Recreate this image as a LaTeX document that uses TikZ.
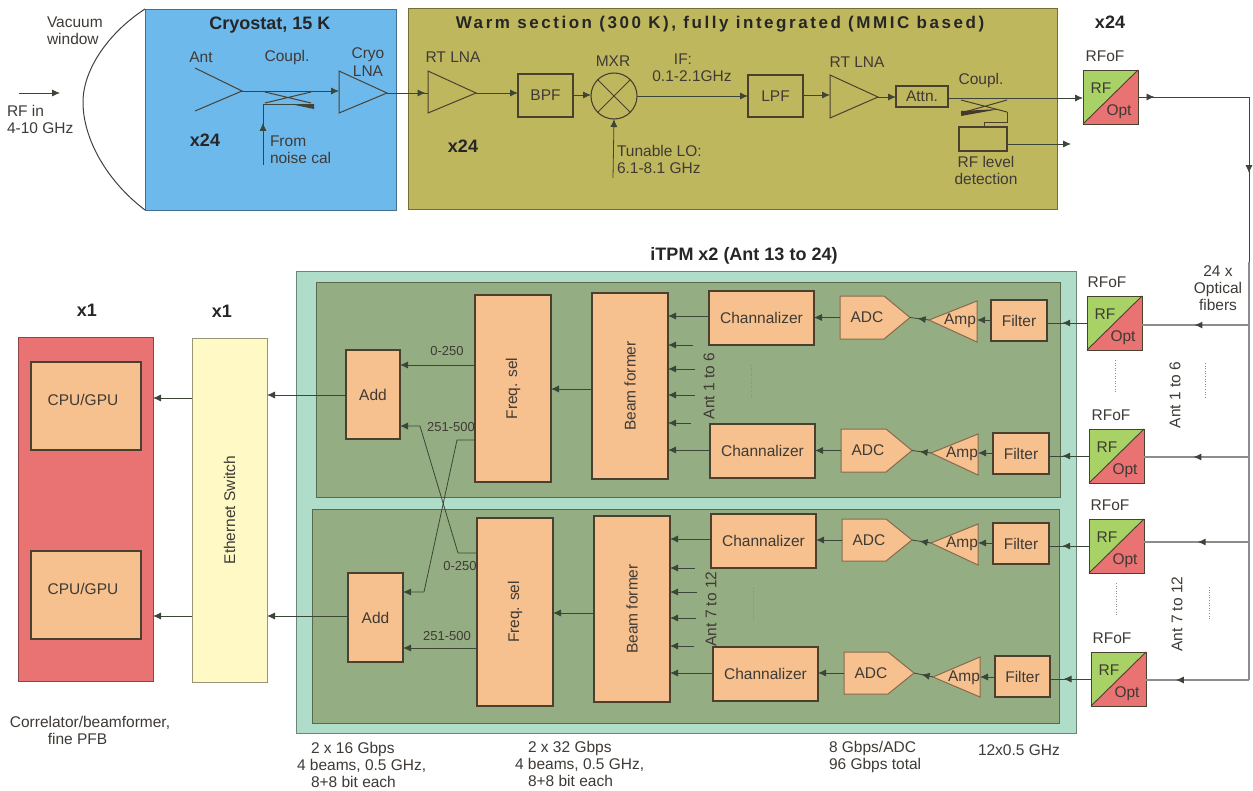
\documentclass[tikz,border=0pt]{standalone}
\usepackage{fontspec}
\setmainfont{Liberation Sans}
\usetikzlibrary{arrows.meta,decorations.markings,calc}
\definecolor{txtc}{HTML}{3F3A35}
\definecolor{linec}{HTML}{3C4638}
\definecolor{edgec}{HTML}{4A4030}
\definecolor{bluef}{HTML}{6DB9EC}
\definecolor{olivef}{HTML}{BFB75E}
\definecolor{tealf}{HTML}{B0DDC9}
\definecolor{panelf}{HTML}{95AD82}
\definecolor{orangef}{HTML}{F6C18E}
\definecolor{redf}{HTML}{E97272}
\definecolor{yellowf}{HTML}{FFF9C6}
\definecolor{rfgreen}{HTML}{A9D266}
\tikzset{
  x=1pt,y=-1pt,
  every node/.style={text=txtc,font=\fontsize{15.5}{17}\selectfont,inner sep=0pt,outer sep=0pt},
  boldlab/.style={font=\fontsize{18}{20}\bfseries\selectfont,text=black!85},
  smalllab/.style={font=\fontsize{13}{15}\selectfont},
  para/.style={align=left,font=\fontsize{15.5}{17.3}\selectfont},
  parac/.style={align=center,font=\fontsize{15.5}{17.3}\selectfont},
  region/.style={draw=#1!60!black,line width=1pt},
  procbox/.style={draw=edgec,fill=orangef,line width=1.3pt},
  warmbox/.style={draw=edgec,line width=1.1pt},
  shapeline/.style={draw=edgec,line width=1pt},
  ln/.style={draw=linec,line width=.8pt},
  tip/.style={ln,-{Latex[length=8pt,width=7pt]}},
  midtip/.style={ln,postaction={decorate},decoration={markings,mark=at position #1 with {\arrow[linec]{Latex[length=8pt,width=7pt]}}}},
  fibre/.style={midtip=#1,draw=black!45,line width=1.1pt},
  dotsv/.style={draw=black!45,line width=.6pt,dotted},
}
\newcommand\bxx[8][]{%
  \pgfmathsetmacro\bxw{#6-#4}\pgfmathsetmacro\bxh{#7-#5}%
  \node[#2,#1,minimum width=\bxw pt,minimum height=\bxh pt] (#3) at ({(#4+#6)/2},{(#5+#7)/2}) {#8};}
% triangle: name, xbase, xtip, ytop, ybot, ytip
\newcommand\tri[6]{%
  \draw[shapeline] (#2,#4)--(#3,#6)--(#2,#5)--cycle;
  \coordinate (#1-in) at (#2,#6);\coordinate (#1-out) at (#3,#6);}
% amp (pointing left): name, xtip, xbase, ytop, ybot, ytip
\newcommand\amp[6]{%
  \draw[shapeline,fill=orangef,draw=orangef!55!black] (#3,#4)--(#2,#6)--(#3,#5)--cycle;
  \coordinate (#1-in) at (#3,#6);\coordinate (#1-out) at (#2,#6);
  \node (#1-t) at ({#2+31},{#6+1}) {Amp};}
% adc: name, x0, xs, x1, y0, y1
\newcommand\adc[6]{%
  \draw[shapeline,fill=orangef,draw=orangef!55!black] (#2,#5)--(#3,#5)--(#4,{(#5+#6)/2})--(#3,#6)--(#2,#6)--cycle;
  \coordinate (#1-in) at (#4,{(#5+#6)/2});\coordinate (#1-out) at (#2,{(#5+#6)/2});
  \node (#1-t) at ({#2+27},{(#5+#6)/2}) {ADC};}
% rfof: name, x0, y0, label x, label y
\newcommand\rfof[5]{%
  \fill[rfgreen] (#2,#3) rectangle ({#2+55},{#3+54});
  \fill[redf] ({#2+55},#3)--({#2+55},{#3+54})--(#2,{#3+54})--cycle;
  \draw[edgec,line width=.9pt] ({#2+55},#3)--(#2,{#3+54});
  \node[draw=edgec,line width=1pt,minimum width=55pt,minimum height=54pt] (#1) at ({#2+27.5},{#3+27}) {};
  \node (#1-rf) at ({#2+18},{#3+18}) {RF};
  \node (#1-opt) at ({#2+36},{#3+42}) {Opt};
  \node (#1-lab) at (#4,#5) {RFoF};}
\begin{document}
\begin{tikzpicture}
\useasboundingbox (0,0) rectangle (1253,790);
\fill[white] (0,0) rectangle (1253,790);

% ---------- top row regions
\draw[ln,line width=1pt] (145,9) .. controls (108,33) and (83,70) .. (83,102) .. controls (83,140) and (108,182) .. (145,210);
\bxx[fill=bluef]{region=bluef}{cryo}{145}{9}{396}{210}{}
\bxx[fill=olivef]{region=olivef}{warm}{408}{8}{1057}{209}{}
\node[boldlab] (cryot) at (270,25) {Cryostat, 15 K};
\node[boldlab,font=\fontsize{17}{20}\bfseries\selectfont\addfontfeature{LetterSpace=15}] (warmt) at (720,24) {Warm section (300 K), fully integrated (MMIC based)};

% RF in
\coordinate (rfa) at (19,93);\coordinate (rfb) at (60,93);
\draw[tip] (rfa)--(rfb);
\node[para] (vac) at (47,30.5) [anchor=west] {Vacuum\\window};
\node[para] (rfin) at (7,119.5) [anchor=west] {RF in\\4-10 GHz};

% Cryostat content
\node (ant) at (201,57) {Ant};
\node (cpl1) at (287,57) {Coupl.};
\node[parac] (cryolna) at (368,62) {Cryo\\LNA};
\node[boldlab] (x24a) at (205,140) {x24};
\node[para,anchor=west] (noisecal) at (270,149.5) {From\\noise cal};
\coordinate (antt) at (242,91);
\draw[shapeline] (195,68)--(antt)--(195,111);
\tri{clna}{339}{387}{71}{113}{93}
\draw[tip] (antt)--(339,91);
\draw[shapeline] (265,92)--(311,103) (265,103)--(311,92);
\fill[edgec] (290,104)--(314,104)--(314,109)--cycle;
\coordinate (ncal) at (263,165);
\draw[midtip=.38] (ncal)--(263,104)--(313,104);

% Warm content
\tri{rlna1}{428}{476}{71}{113}{93}
\draw[midtip=.94] (clna-out)--(rlna1-in);
\node (rtl1) at (453,57) {RT LNA};
\node[boldlab] (x24b) at (463,146) {x24};
\bxx{warmbox}{bpf}{518}{74}{573}{117}{BPF}
\node[draw=edgec,line width=1.1pt,minimum size=46pt,circle] (mxr) at (614,96) {};
\draw[shapeline] (mxr.45)--(mxr.225) (mxr.135)--(mxr.315);
\node (mxrl) at (613,61) {MXR};
\node (ifl) at (683,59) {IF:};
\node (ifr) at (692,76) {0.1-2.1GHz};
\coordinate (lo) at (613,178);
\draw[tip] (lo)--(mxr.south);
\node[para,anchor=west] (lol) at (617,159.5) {Tunable LO:\\6.1-8.1 GHz};
\bxx{warmbox}{lpf}{748}{75}{803}{117}{LPF}
\node (rtl2) at (857,62) {RT LNA};
\tri{rlna2}{830}{878}{75}{118}{97}
\bxx{warmbox}{attn}{896}{86}{948}{107}{Attn.}
\node (cpl2) at (981,80) {Coupl.};
\bxx{warmbox}{rfdet}{959}{127}{1007}{151}{}
\node[parac] (rfdett) at (986,170.5) {RF level\\detection};
\draw[tip] (rlna1-out)--(bpf.west |- 0,93);
\draw[tip] (bpf.east |- 0,95)--(mxr.west |- 0,95);
\draw[tip] (mxr.east |- 0,96)--(lpf.west |- 0,96);
\draw[tip] (lpf.east |- 0,95)--(rlna2-in |- 0,95);
\draw[tip] (rlna2-out)--(attn.west |- 0,97);
\draw[shapeline] (961,100)--(1007,112) (961,113)--(1007,100);
\fill[edgec!90!black] (961,111)--(1000,109)--(961,116)--cycle;
\draw[shapeline] (1007,112)--(1007,122)--(984,122)--(984,127);
\coordinate (detout) at (1071,144);
\draw[tip] (rfdet.east |- detout)--(detout);

% top RFoF and fibre run
\node[boldlab] (x24c) at (1110,22) {x24};
\rfof{rft}{1083}{70}{1105}{56}
\coordinate (fibc) at (1249,97);
\coordinate (fibe) at (1249,680);
\draw[tip] (attn.east |- 0,98)--(rft.west |- 0,98);
\draw[midtip=.06] (rft.east |- fibc)--(fibc)--(1249,262);
\draw[draw=black!45,line width=1.1pt] (1249,262)--(fibe);
\draw[tip] (1249,165)--(1249,173);

% ---------- lower left
\bxx[fill=redf]{region=redf}{corr}{18}{337}{153}{681}{}
\bxx{procbox}{cpu1}{31}{362}{141}{450}{}
\bxx{procbox}{cpu2}{31}{551}{141}{639}{}
\node (cpu1t) at (83,400) {CPU/GPU};
\node (cpu2t) at (83,589) {CPU/GPU};
\bxx[fill=yellowf]{region=yellowf}{sw}{192}{338}{267}{682}{\rotatebox{90}{Ethernet Switch}}
\node[boldlab] (x1a) at (87,310) {x1};
\node[boldlab] (x1b) at (222,311) {x1};
\node[parac] (corrt) at (90,730.5) {Correlator/beamformer,\\\hspace{-25pt}fine PFB};

% ---------- iTPM
\bxx[fill=tealf]{region=tealf}{itpm}{296}{271}{1076}{733}{}
\bxx[fill=panelf]{region=panelf}{pa}{316}{282}{1060}{497}{}
\bxx[fill=panelf]{region=panelf}{pb}{312}{509}{1059}{723}{}
\node[boldlab] (itpmt) at (744,256) {iTPM x2 (Ant 13 to 24)};

\bxx{procbox}{add1}{346}{350}{400}{439}{Add}
\bxx{procbox}{add2}{348}{573}{403}{662}{Add}
\bxx{procbox}{fs1}{475}{295}{551}{482}{\rotatebox{90}{Freq. sel}}
\bxx{procbox}{fs2}{477}{518}{553}{706}{\rotatebox{90}{Freq. sel}}
\bxx{procbox}{bf1}{592}{293}{668}{479}{\rotatebox{90}{Beam former}}
\bxx{procbox}{bf2}{594}{516}{670}{702}{\rotatebox{90}{Beam former}}
\bxx{procbox}{ch1a}{709}{291}{814}{345}{Channalizer}
\bxx{procbox}{ch1b}{710}{424}{815}{478}{Channalizer}
\bxx{procbox}{ch2a}{711}{514}{816}{568}{Channalizer}
\bxx{procbox}{ch2b}{713}{647}{818}{701}{Channalizer}
\adc{ad1a}{840}{884}{910}{296}{339}
\adc{ad1b}{841}{886}{912}{429}{472}
\adc{ad2a}{842}{886}{912}{519}{561}
\adc{ad2b}{844}{888}{914}{652}{694}
\amp{am1a}{929}{977}{301}{342}{320}
\amp{am1b}{931}{978}{434}{475}{453}
\amp{am2a}{931}{978}{524}{565}{543}
\amp{am2b}{933}{980}{657}{697}{677}
\bxx{procbox}{fl1a}{991}{300}{1047}{341}{Filter}
\bxx{procbox}{fl1b}{993}{433}{1049}{474}{Filter}
\bxx{procbox}{fl2a}{993}{523}{1049}{564}{Filter}
\bxx{procbox}{fl2b}{995}{656}{1050}{697}{Filter}
\rfof{rf1a}{1087}{296}{1107}{282}
\rfof{rf1b}{1089}{429}{1111}{415}
\rfof{rf2a}{1089}{519}{1110}{505}
\rfof{rf2b}{1091}{652}{1112}{638}

% fibre to RFoF to filter (y values differ slightly)
\draw[fibre=.51] (1249,325)--(rf1a.east |- 0,325);
\draw[fibre=.53] (1249,457)--(rf1b.east |- 0,457);
\draw[fibre=.49] (1249,542)--(rf2a.east |- 0,542);
\draw[fibre=.71] (fibe)--(rf2b.east |- fibe);
\draw[midtip=.62] (rf1a.west |- 0,323)--(fl1a.east |- 0,323);
\draw[midtip=.67] (rf1b.west |- 0,456)--(fl1b.east |- 0,456);
\draw[midtip=.67] (rf2a.west |- 0,546)--(fl2a.east |- 0,546);
\draw[midtip=.67] (rf2b.west |- 0,679)--(fl2b.east |- 0,679);
\foreach \f/\a/\d/\c/\ya in {fl1a/am1a/ad1a/ch1a/320,fl1b/am1b/ad1b/ch1b/453,fl2a/am2a/ad2a/ch2a/543,fl2b/am2b/ad2b/ch2b/677}{
  \draw[tip] (\f.west |- 0,\ya)--(\a-in);
  \draw[midtip=.6] (\a-out)--(\d-in);
  \draw[tip] (\d-out)--(\c.east |- \d-out);
}
\draw[tip] (ch1a.west |- 0,316)--(bf1.east |- 0,316);
\draw[tip] (ch1b.west |- 0,450)--(bf1.east |- 0,450);
\draw[tip] (ch2a.west |- 0,539)--(bf2.east |- 0,539);
\draw[tip] (ch2b.west |- 0,673)--(bf2.east |- 0,673);
\foreach \y/\e in {345/693,369/695,395/695,423/691}{\coordinate (st) at (\e,\y);\draw[tip] (st)--(bf1.east |- st);}
\foreach \y/\e in {568/695,592/697,618/696,646/694}{\coordinate (st) at (\e,\y);\draw[tip] (st)--(bf2.east |- st);}
\draw[tip] (bf1.west |- 0,389)--(fs1.east |- 0,389);
\draw[tip] (bf2.west |- 0,613)--(fs2.east |- 0,613);
\draw[tip] (fs1.west |- 0,365)--(add1.east |- 0,365);
\draw[tip] (fs2.west |- 0,648)--(add2.east |- 0,648);
\draw[tip] (fs1.west |- 0,440)--(457,440)--(424,592)--(add2.east |- 0,592);
\draw[tip] (fs2.west |- 0,553)--(458,553)--(420,426)--(add1.east |- 0,426);
\draw[tip] (add1.west |- 0,395)--(sw.east |- 0,395);
\draw[tip] (add2.west |- 0,616)--(sw.east |- 0,616);
\draw[tip] (sw.west |- 0,398)--(corr.east |- 0,398);
\draw[tip] (sw.west |- 0,616)--(corr.east |- 0,616);

\node[smalllab] (l1) at (447,351) {0-250};
\node[smalllab] (l2) at (451,427) {251-500};
\node[smalllab] (l3) at (460,566) {0-250};
\node[smalllab] (l4) at (447,636) {251-500};

\node (ant1) at (709,386) {\rotatebox{90}{Ant 1 to 6}};
\node (ant2) at (711,609) {\rotatebox{90}{Ant 7 to 12}};
\node (ant3) at (1175,395) {\rotatebox{90}{Ant 1 to 6}};
\node (ant4) at (1177,614) {\rotatebox{90}{Ant 7 to 12}};
\draw[dotsv] (751,365)--(751,397) (753,588)--(753,620) (1115,360)--(1115,392) (1205,363)--(1205,397) (1116,583)--(1116,616) (1209,587)--(1209,620);

\node[parac] (fibt) at (1218,288) {24 x\\Optical\\fibers};
\node[para,anchor=west] (n1) at (297,765) {\hspace{14pt}2 x 16 Gbps\\4 beams, 0.5 GHz,\\\hspace{14pt}8+8 bit each};
\node[para,anchor=west] (n2) at (515,764) {\hspace{13pt}2 x 32 Gbps\\4 beams, 0.5 GHz,\\\hspace{13pt}8+8 bit each};
\node[para,anchor=west] (n3) at (829,757) {8 Gbps/ADC\\96 Gbps total};
\node[anchor=west] (n4) at (978,750) {12x0.5 GHz};
\end{tikzpicture}
\end{document}
